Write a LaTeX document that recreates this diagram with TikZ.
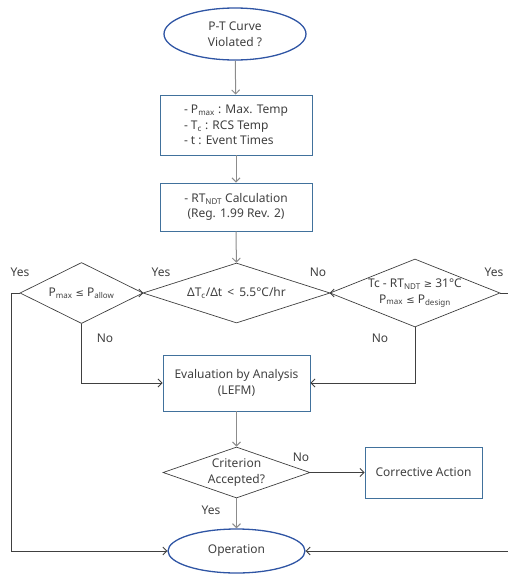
\documentclass[tikz,border=0pt]{standalone}
\usepackage{fontspec}
\setmainfont{Noto Sans}
\newfontfamily\symf{DejaVu Sans}
\newcommand{\lesym}{{\symf\fontsize{10}{12}\selectfont ≤}}
\newcommand{\gesym}{{\symf\fontsize{10}{12}\selectfont ≥}}
\usetikzlibrary{shapes.geometric,arrows.meta}
\definecolor{txt}{HTML}{404040}
\definecolor{termblue}{HTML}{2F55A4}
\definecolor{boxblue}{HTML}{41719C}
\definecolor{vgray}{HTML}{8C8C8C}
\definecolor{hgray}{HTML}{404040}
\begin{document}
\begin{tikzpicture}[x=1pt,y=-1pt,
  font=\fontsize{12}{15.5}\selectfont, text=txt,
  term/.style={ellipse, draw=termblue, line width=1.3pt, inner sep=0pt, align=center},
  procbox/.style={rectangle, draw=boxblue, line width=0.9pt, inner sep=0pt, align=center},
  dia/.style={diamond, draw=hgray, line width=0.7pt, inner sep=0pt, align=center},
  vline/.style={draw=vgray, line width=1pt, -{Straight Barb[length=4pt,width=8pt]}},
  hline/.style={draw=hgray, line width=0.8pt, -{Straight Barb[length=4pt,width=8pt]}},
  lbl/.style={inner sep=0pt}]
\useasboundingbox (0,0) rectangle (508,574);
\clip (0,0) rectangle (508,574);

\node[term, minimum width=142pt, minimum height=52pt] (start) at (235,34) {P-T Curve\\Violated ?};
\node[procbox, minimum width=152pt, minimum height=60pt, align=left] (inp) at (236,125)
  {- P\textsubscript{max} : Max. Temp\\- T\textsubscript{c} : RCS Temp\\- t : Event Times};
\node[procbox, minimum width=152pt, minimum height=48pt] (rt) at (236,207)
  {- RT\textsubscript{NDT} Calculation\\(Reg. 1.99 Rev. 2)};
\node[dia, minimum width=187pt, minimum height=60pt, shape aspect=3.1] (rate) at (236.5,293)
  {ΔT\textsubscript{c}/Δt \,<\, 5.5°C/hr};
\node[dia, minimum width=123pt, minimum height=61pt, shape aspect=2] (pallow) at (81.5,293)
  {P\textsubscript{max} \lesym{} P\textsubscript{allow}};
\node[dia, minimum width=170pt, minimum height=68pt, shape aspect=2.5] (design) at (415,293)
  {Tc - RT\textsubscript{NDT} \gesym{} 31°C\\P\textsubscript{max} \lesym{} P\textsubscript{design}};
\node[procbox, minimum width=147pt, minimum height=56pt] (eval) at (236.5,383)
  {Evaluation by Analysis\\(LEFM)};
\node[dia, minimum width=147pt, minimum height=51pt, shape aspect=2.9] (crit) at (236.5,472.5)
  {Criterion\\Accepted?};
\node[procbox, minimum width=117pt, minimum height=51pt] (corr) at (423.5,472.5)
  {Corrective Action};
\node[term, minimum width=137pt, minimum height=44pt] (op) at (236.5,551) {Operation};

\node[lbl] (y1) at (20,272) {Yes};
\node[lbl] (y2) at (161,272) {Yes};
\node[lbl] (n1) at (318,272) {No};
\node[lbl] (y3) at (494,272) {Yes};
\node[lbl] (n2) at (105,338) {No};
\node[lbl] (n3) at (380,338) {No};
\node[lbl] (n4) at (301,457) {No};
\node[lbl] (y4) at (211,510) {Yes};

\coordinate (lc) at (11,551);
\coordinate (rc) at (516,551);

\draw[vline] (start) -- (inp);
\draw[vline] (inp) -- (rt);
\draw[vline] (rt) -- (rate);
\draw[vline] (eval) -- (crit);
\draw[vline] (crit) -- (op);
\draw[hline] (rate) -- (pallow);
\draw[hline] (rate) -- (design);
\draw[hline] (crit) -- (corr);
\draw[hline] (pallow.south) |- (eval.west);
\draw[hline] (design.south) |- (eval.east);
\draw[hline] (pallow.west) -| (lc) -- (op.west);
\draw[hline] (design.east) -| (rc) -- (op.east);
\end{tikzpicture}
\end{document}
